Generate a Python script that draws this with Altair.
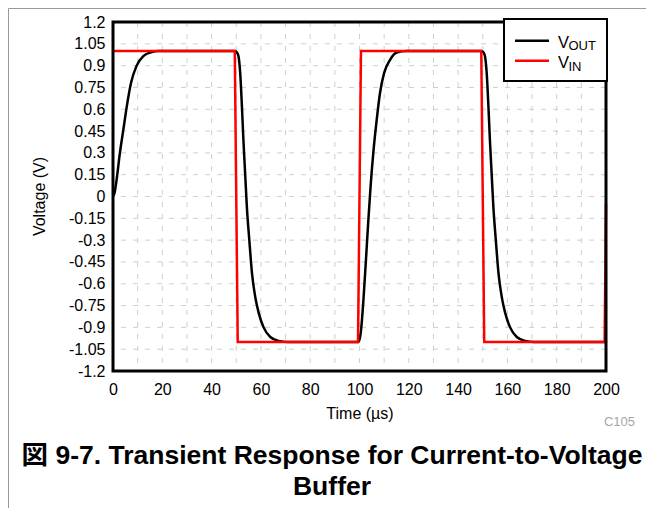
import altair as alt
import pandas as pd

# ---- data ----
t_out = [0, 0.7, 1.5, 2.8, 4.2, 5.6, 7.3, 9.6, 12.3, 15.7, 18.4, 22,
         49.5, 50.3, 50.9, 51.6, 52.3, 52.9, 53.6, 54.3, 55.3, 56.4, 57.7, 59.1, 61.1, 63.8, 67.2, 70.6,
         99.6, 100.5, 101.5, 102.6, 103.6, 104.5, 105.6, 107.0, 108.3, 110.0, 112.4, 115.1, 119,
         149.5, 150.3, 150.9, 151.6, 152.3, 152.9, 153.6, 154.3, 155.3, 156.4, 157.7, 159.1, 161.1, 163.8, 167.2, 170.6,
         200]
v_out = [0, 0.03, 0.12, 0.30, 0.46, 0.62, 0.78, 0.90, 0.965, 0.993, 1.0, 1.0,
         1.0, 0.99, 0.965, 0.85, 0.62, 0.39, 0.16, -0.07, -0.30, -0.53, -0.69, -0.80, -0.90, -0.966, -0.993, -1.0,
         -1.0, -0.94, -0.735, -0.44, -0.16, 0.07, 0.30, 0.53, 0.71, 0.85, 0.94, 0.99, 1.0,
         1.0, 0.99, 0.965, 0.85, 0.62, 0.39, 0.16, -0.07, -0.30, -0.53, -0.69, -0.80, -0.90, -0.966, -0.993, -1.0,
         -1.0]

t_in = [0, 49.4, 50.6, 99.4, 100.6, 149.4, 150.6, 199.45, 200]
v_in = [1.0, 1.0, -1.0, -1.0, 1.0, 1.0, -1.0, -1.0, -0.05]

x_ticks = [0, 10, 20, 30, 40, 50, 60, 70, 80, 90, 100, 110, 120, 130, 140, 150, 160, 170, 180, 190, 200]
y_ticks = [-1.2, -1.05, -0.9, -0.75, -0.6, -0.45, -0.3, -0.15, 0, 0.15, 0.3, 0.45, 0.6, 0.75, 0.9, 1.05, 1.2]

FONT = "Liberation Sans, Arial, 'Noto Sans CJK JP', sans-serif"
W, H = 493, 349
GRID = "#cfcfcf"

df_out = pd.DataFrame({"t": t_out, "v": v_out})
df_in = pd.DataFrame({"t": t_in, "v": v_in})
df_xg = pd.DataFrame({"t": x_ticks})
df_yg = pd.DataFrame({"v": y_ticks})
one = pd.DataFrame({"d": [0]})

ax_kw = dict(grid=False, ticks=False, domain=False, labelFont=FONT, labelFontSize=16,
             labelColor="black", title=None, labelFlush=False)

xs = alt.Scale(domain=[0, 200], nice=False, zero=False)
ys = alt.Scale(domain=[-1.2, 1.2], nice=False, zero=False)

X = alt.X("t:Q", scale=xs,
          axis=alt.Axis(values=x_ticks, labelPadding=10,
                        labelExpr="datum.value % 20 === 0 ? datum.label : ''", **ax_kw))
Y = alt.Y("v:Q", scale=ys,
          axis=alt.Axis(values=y_ticks, format=".2~f", labelPadding=8,
                        labelExpr="replace(datum.label, '\u2212', '-')", **ax_kw))

xgrid = alt.Chart(df_xg).mark_rule(color=GRID, strokeWidth=1, strokeDash=[5, 7]).encode(x=X)
ygrid = alt.Chart(df_yg).mark_rule(color=GRID, strokeWidth=1, strokeDash=[5, 7]).encode(y=Y)

vout = alt.Chart(df_out).mark_line(color="black", strokeWidth=2.5, interpolate="monotone").encode(x=X, y=Y)
vin = alt.Chart(df_in).mark_line(color="#ff0000", strokeWidth=2.5).encode(x=X, y=Y)

frame = alt.Chart(one).mark_rect(fill="transparent", stroke="black", strokeWidth=3).encode(
    x=alt.value(0), x2=alt.value(W), y=alt.value(0), y2=alt.value(H))

legend_box = alt.Chart(one).mark_rect(fill="white", stroke="black", strokeWidth=2).encode(
    x=alt.value(391), x2=alt.value(494), y=alt.value(-3), y2=alt.value(59))
leg_out = alt.Chart(one).mark_rule(color="black", strokeWidth=2.5).encode(
    x=alt.value(402), x2=alt.value(436), y=alt.value(18.7))
leg_in = alt.Chart(one).mark_rule(color="#ff0000", strokeWidth=2.5).encode(
    x=alt.value(402), x2=alt.value(436), y=alt.value(38.7))


def txt(s, x, y, size=16, align="left", baseline="alphabetic", color="black", weight="normal", angle=0):
    kw = dict(text=s, font=FONT, fontSize=size, align=align, baseline=baseline, color=color, fontWeight=weight)
    if angle:
        kw["angle"] = angle
    return alt.Chart(one).mark_text(**kw).encode(x=alt.value(x), y=alt.value(y))


texts = [
    txt("V", 445, 25.5, size=16.5),
    txt("OUT", 455.5, 28, size=13),
    txt("V", 445, 45.5, size=16.5),
    txt("IN", 455.5, 48.5, size=13),
    txt("Voltage (V)", -73, H / 2, size=16, align="center", baseline="middle", angle=270),
    txt("Time (\u00b5s)", 247, 392, size=16, align="center", baseline="middle"),
    txt("C105", 522, 400, size=13, align="right", baseline="middle", color="#a6a6a6"),
    txt("\u56f3 9-7. Transient Response for Current-to-Voltage", 219, 434, size=26.5,
        align="center", baseline="middle", weight="bold"),
    txt("Buffer", 219, 465, size=26.5, align="center", baseline="middle", weight="bold"),
]

outer = alt.Chart(one).mark_rect(fill="transparent", stroke="#999999", strokeWidth=1).encode(
    x=alt.value(-104.5), x2=alt.value(700), y=alt.value(-13.5), y2=alt.value(700))

chart = alt.layer(xgrid, ygrid, vout, vin, frame, legend_box, leg_out, leg_in, *texts, outer).properties(
    width=W, height=H,
    autosize=alt.AutoSizeParams(type="none"),
    padding={"left": 105, "top": 14, "right": 40, "bottom": 137},
    background="white",
).configure_view(stroke=None)

chart.save("out.html", embed_options={"renderer": "svg", "actions": False})
